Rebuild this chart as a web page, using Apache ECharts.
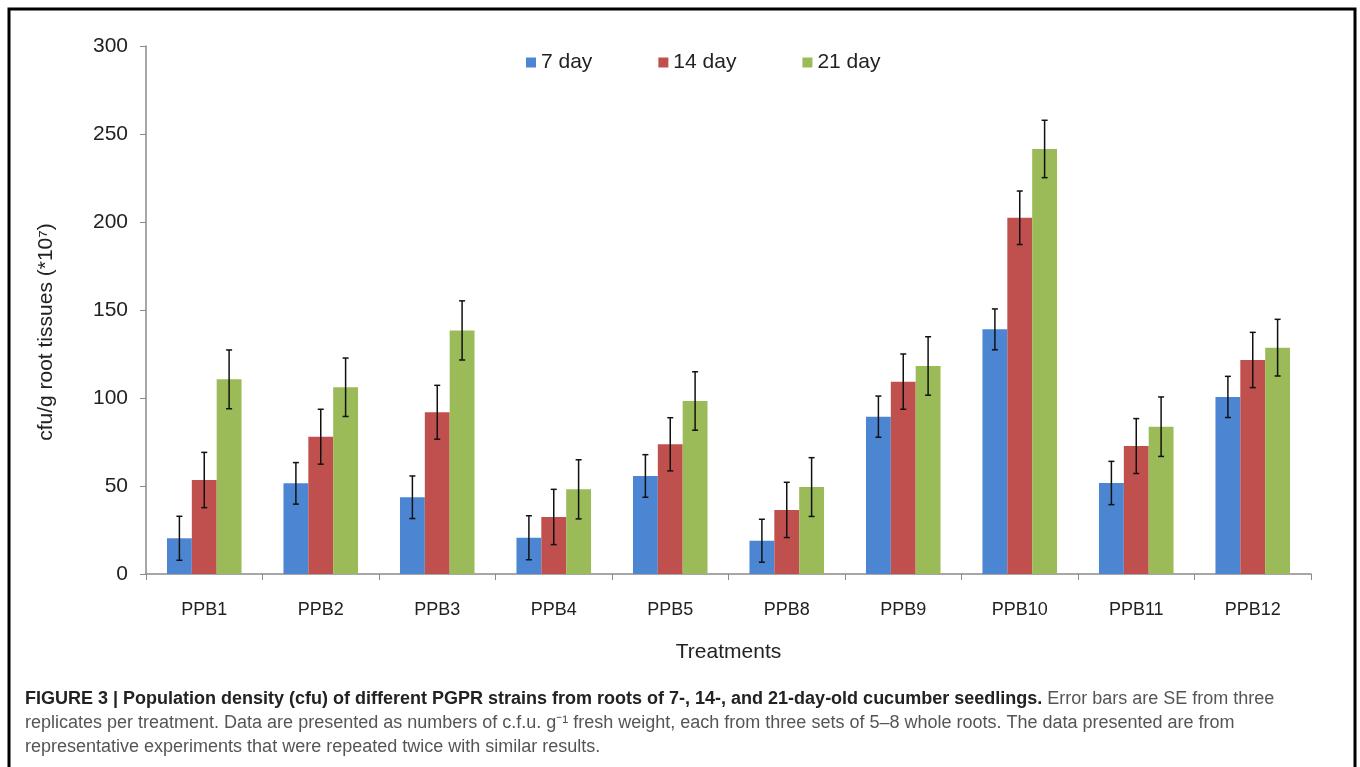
<!DOCTYPE html>
<html>
<head>
<meta charset="utf-8">
<script src="https://cdn.jsdelivr.net/npm/echarts@6/dist/echarts.min.js"></script>
<style>
  html, body { margin: 0; padding: 0; background: #fff; }
  #main { width: 1360px; height: 767px; }
</style>
</head>
<body>
<div id="main"></div>
<script>
let categories = ["PPB1", "PPB2", "PPB3", "PPB4", "PPB5", "PPB8", "PPB9", "PPB10", "PPB11", "PPB12"];
let seriesNames = ["7 day", "14 day", "21 day"];
let yTicks = [0, 50, 100, 150, 200, 250, 300];

let day7 = [20.3, 51.5, 43.6, 20.6, 55.7, 18.9, 89.4, 139.0, 51.7, 100.6];
let day14 = [53.4, 78.0, 91.9, 32.4, 73.7, 36.4, 109.3, 202.4, 72.7, 121.6];
let day21 = [110.6, 106.1, 138.4, 48.1, 98.3, 49.4, 118.2, 241.5, 83.7, 128.6];

let err7 = [12.5, 11.8, 12.1, 12.5, 12.1, 12.2, 11.7, 11.6, 12.3, 11.7];
let err14 = [15.7, 15.6, 15.3, 15.7, 15.1, 15.7, 15.7, 15.2, 15.6, 15.7];
let err21 = [16.7, 16.6, 16.8, 16.8, 16.6, 16.7, 16.6, 16.3, 16.9, 16.1];

let colors = ["#4C86D2", "#C0504D", "#9BBB59"];
let values = [day7, day14, day21];
let errors = [err7, err14, err21];
let gapRatio = 0.36;

// error bars drawn on top of each grouped bar
function errorBars(idx) {
  let data = values[idx].map(function (v, i) {
    return [i, v - errors[idx][i], v + errors[idx][i]];
  });
  return {
    type: "custom",
    name: seriesNames[idx] + " SE",
    z: 10,
    silent: true,
    data: data,
    renderItem: function (params, api) {
      let band = api.size([1, 0])[0];
      let barW = band * (1 - gapRatio) / 3;
      let lowPt = api.coord([api.value(0), api.value(1)]);
      let highPt = api.coord([api.value(0), api.value(2)]);
      let x = lowPt[0] + (idx - 1) * barW;
      let cap = 3;
      let style = { stroke: "#111", lineWidth: 1.5 };
      return {
        type: "group",
        children: [
          { type: "line", shape: { x1: x, y1: lowPt[1], x2: x, y2: highPt[1] }, style: style },
          { type: "line", shape: { x1: x - cap, y1: lowPt[1], x2: x + cap, y2: lowPt[1] }, style: style },
          { type: "line", shape: { x1: x - cap, y1: highPt[1], x2: x + cap, y2: highPt[1] }, style: style }
        ]
      };
    }
  };
}

let barSeries = seriesNames.map(function (name, idx) {
  return {
    name: name,
    type: "bar",
    data: values[idx],
    barGap: "0%",
    barCategoryGap: gapRatio * 100 + "%",
    itemStyle: { color: colors[idx] }
  };
});

let option = {
  animation: false,
  textStyle: { fontFamily: "Liberation Sans, Arial, sans-serif" },
  legend: {
    top: 47,
    left: 521,
    itemWidth: 10,
    itemHeight: 10,
    itemGap: 66,
    icon: "rect",
    textStyle: { fontSize: 21, color: "#222", fontFamily: "Liberation Sans" },
    data: seriesNames
  },
  grid: {
    left: 146,
    right: 49,
    top: 46,
    bottom: 193
  },
  xAxis: {
    type: "category",
    data: categories,
    name: "Treatments",
    nameLocation: "middle",
    nameGap: 68,
    nameTextStyle: { fontSize: 21, color: "#222" },
    axisLine: { lineStyle: { color: "#8a8a8a", width: 1.5 } },
    axisTick: { show: true, length: 6, lineStyle: { color: "#8a8a8a" } },
    axisLabel: { fontSize: 18, color: "#222", margin: 27 }
  },
  yAxis: {
    type: "value",
    min: yTicks[0],
    max: yTicks[yTicks.length - 1],
    interval: 50,
    axisLine: { show: true, lineStyle: { color: "#8a8a8a", width: 1.5 } },
    axisTick: { show: true, length: 6, lineStyle: { color: "#8a8a8a" } },
    splitLine: { show: false },
    axisLabel: { fontSize: 21, color: "#222", margin: 18 }
  },
  graphic: [
    {
      type: "rect",
      shape: { x: 9, y: 9, width: 1346, height: 780 },
      style: { fill: "none", stroke: "#000", lineWidth: 3 },
      silent: true
    },
    {
      type: "text",
      x: 46,
      y: 332,
      rotation: Math.PI / 2,
      style: {
        text: "cfu/g root tissues (*10⁷)",
        fontSize: 21,
        fill: "#222",
        fontFamily: "Liberation Sans",
        align: "center",
        verticalAlign: "middle"
      }
    },
    {
      type: "text",
      left: 25,
      top: 690,
      style: {
        text: "{b|FIGURE 3 | Population density (cfu) of different PGPR strains from roots of 7-, 14-, and 21-day-old cucumber seedlings.}{n| Error bars are SE from three}",
        rich: {
          b: { fontSize: 18, fontWeight: "bold", fill: "#222", fontFamily: "Liberation Sans" },
          n: { fontSize: 18, fill: "#555", fontFamily: "Liberation Sans" }
        }
      }
    },
    {
      type: "text",
      left: 25,
      top: 714,
      style: {
        text: "replicates per treatment. Data are presented as numbers of c.f.u. g⁻¹ fresh weight, each from three sets of 5–8 whole roots. The data presented are from",
        fontSize: 18,
        fill: "#555",
        fontFamily: "Liberation Sans"
      }
    },
    {
      type: "text",
      left: 25,
      top: 738,
      style: {
        text: "representative experiments that were repeated twice with similar results.",
        fontSize: 18,
        fill: "#555",
        fontFamily: "Liberation Sans"
      }
    }
  ],
  series: barSeries.concat([errorBars(0), errorBars(1), errorBars(2)])
};

let chart = echarts.init(document.getElementById("main"));
chart.setOption(option);
</script>
</body>
</html>
